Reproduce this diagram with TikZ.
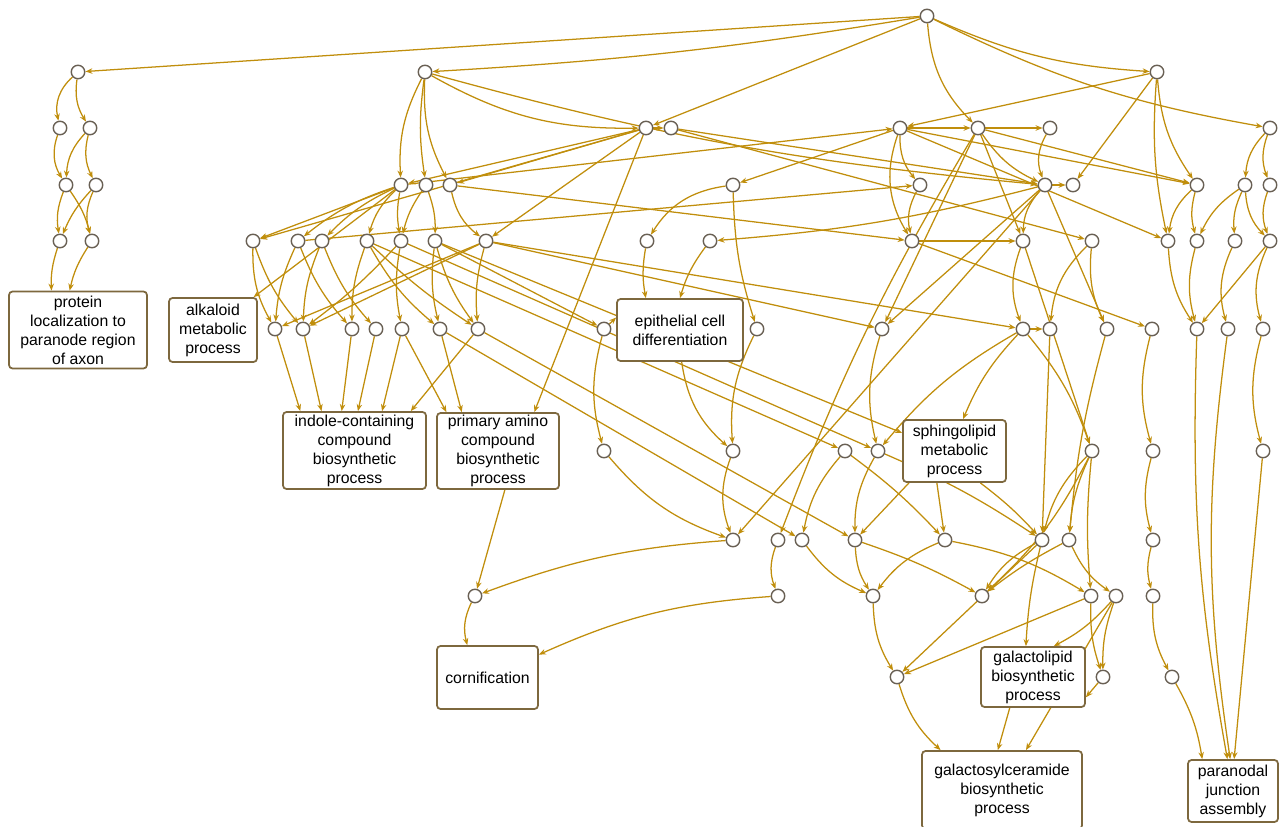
\documentclass[tikz,border=0pt]{standalone}
\usepackage{fontspec}
\setmainfont{Liberation Sans}
\usepackage{xcolor}
\usetikzlibrary{arrows.meta}
\definecolor{linkgold}{RGB}{192,142,12}
\definecolor{ringgray}{RGB}{105,96,84}
\definecolor{boxbrown}{RGB}{125,104,62}
\pgfdeclarelayer{back}
\pgfsetlayers{back,main}

\begin{document}
\begin{tikzpicture}[x=0.02cm, y=-0.02cm,
      gonode/.style={circle, draw=ringgray, fill=white, line width=0.8pt, minimum size=0.27cm, inner sep=0pt},
      term/.style={draw=boxbrown, fill=white, line width=1pt, rounded corners=2pt, align=center, inner sep=1pt, font=\fontsize{9}{10.8}\selectfont},
      link/.style={draw=linkgold, line width=0.72pt, -{Stealth[length=1.4mm, width=1.1mm]}},
    ]
      \useasboundingbox (0,0) rectangle (1280,827);

      \foreach \n/\x/\y in {r0/927/16,
          a1/78/72, b1/425/72, c1/1157/72,
          a2/60/128, b2/90/128, c2/646/128, d2/671/128, e2/900/128, f2/978/128, g2/1050/128, h2/1270/128,
          a3/66/185, b3/96/185, c3/401/185, d3/426/185, e3/450/185, f3/733/185, g3/920/185, h3/1045/185,
          i3/1073/185, j3/1197/185, k3/1245/185, l3/1270/185,
          a4/60/241, b4/92/241, c4/253/241, d4/298/241, e4/322/241, f4/367/241, g4/401/241, h4/435/241,
          i4/486/241, j4/647/241, k4/710/241, l4/912/241, m4/1023/241, n4/1092/241, o4/1168/241,
          p4/1197/241, q4/1235/241, r4/1270/241,
          a5/275/329, b5/303/329, c5/352/329, d5/376/329, e5/402/329, f5/440/329, g5/478/329, h5/604/329,
          i5/757/329, j5/882/329, k5/1023/329, l5/1050/329, m5/1107/329, n5/1152/329, o5/1197/329,
          p5/1228/329, q5/1263/329,
          a6/604/451, b6/733/451, c6/845/451, d6/878/451, e6/1092/451, f6/1153/451, g6/1263/451,
          a7/733/540, b7/778/540, c7/802/540, d7/855/540, e7/945/540, f7/1042/540, g7/1069/540, h7/1153/540,
          a8/475/596, b8/778/596, c8/873/596, d8/982/596, e8/1091/596, f8/1116/596, g8/1153/596,
          a9/897/677, b9/1103/677, c9/1172/677}
        \node[gonode] (\n) at (\x,\y) {};

      \node[term, minimum width=2.76cm, minimum height=1.54cm] (prot) at (78,330) {protein\\localization to\\paranode region\\of axon};
      \node[term, minimum width=1.76cm, minimum height=1.28cm] (alka) at (213,330) {alkaloid\\metabolic\\process};
      \node[term, minimum width=2.86cm, minimum height=1.54cm] (indo) at (354.5,450.5) {indole-containing\\compound\\biosynthetic\\process};
      \node[term, minimum width=2.44cm, minimum height=1.52cm] (prim) at (498,451) {primary amino\\compound\\biosynthetic\\process};
      \node[term, minimum width=2.52cm, minimum height=1.24cm] (epit) at (680,330) {epithelial cell\\differentiation};
      \node[term, minimum width=2.06cm, minimum height=1.24cm] (sphi) at (954.5,451) {sphingolipid\\metabolic\\process};
      \node[term, minimum width=2.02cm, minimum height=1.26cm] (corn) at (487.5,677.5) {cornification};
      \node[term, minimum width=2.08cm, minimum height=1.20cm] (glip) at (1033,677) {galactolipid\\biosynthetic\\process};
      \node[term, minimum width=3.20cm, minimum height=1.56cm] (gcer) at (1002,790) {galactosylceramide\\biosynthetic\\process};
      \node[term, minimum width=1.80cm, minimum height=1.24cm] (para) at (1233,791) {paranodal\\junction\\assembly};

      \begin{pgfonlayer}{back}
      \foreach \s/\t/\b in {r0/a1/0, a1/a2/-30, a1/b2/-20, a2/a3/-25, b2/a3/-20, b2/b3/-20,
          a3/a4/-15, a3/b4/10, b3/a4/-10, b3/b4/-20, a4/prot.124/-10, b4/prot.102/-10,
          r0/b1/3, r0/c2/0, r0/f2/-20, r0/c1/-10, r0/h2/-8,
          b1/c2/-15, b1/c3/-15, b1/d3/-8, b1/e3/-15, b1/h3/-5,
          c1/e2/0, c1/i3/0, c1/j3/-15, c1/o4/-8,
          h2/k3/-20, h2/l3/-20, j3/o4/-20, j3/p4/-15, k3/p4/-15, k3/q4/-15, k3/r4/-20, l3/r4/-20,
          c2/d2/0, c2/c3/0, c2/e3/0, c2/c4/0, c2/i4/0, c2/prim.47/0, d2/h3/0, d2/n4/0,
          c3/e2/0, d4/g3/0, e3/l4/0,
          e2/g3/-20, e2/l4/-25, e2/f2/0, e2/f3/0, e2/j3/0, e2/o4/0,
          f2/g2/0, f2/h3/-15, f2/m4/0, f2/j5/0, f2/j3/0, f2/b7/-5,
          g2/h3/-25, h3/i3/0, h3/m4/-20, h3/k4/5, h3/j5/0, h3/m5/0, h3/a7/0,
          g3/l4/-20, l4/m4/0, l4/n5/0, m4/k5/-20, m4/e6/0, n4/l5/-20, n4/m5/-15,
          k5/l5/0, k5/d6/-10, k5/sphi.75/-10, k5/e6/10, l5/f7/0, m5/g7/-5, n5/f6/-15,
          f6/h7/-15, h7/g8/-15, g8/c9/-15, c9/para.134/10, o5/para.100/-6, p5/para.95/-8,
          o4/o5/-15, p4/o5/-15, q4/p5/-20, r4/q5/-20, r4/o5/0, q5/g6/-15, g6/para.88/0,
          f3/j4/-25, f3/i5/-8, k4/epit.90/-10, j4/epit.137/-10, h5/epit.169/0, h5/a6/-15,
          a6/a7/-15, b6/a7/-20, i5/b6/-15, epit.-87/b6/-20, a7/a8/-8, prim.-80/a8/0, a8/corn.122/-20,
          b7/b8/-20, b8/corn.24/-10, c7/c8/-15, c6/c7/-15, c6/e7/5, d6/d7/-15, d6/f7/5, j5/d6/-15,
          sphi.-145/d7/0, sphi.-119/e7/0, sphi.-51/f7/5, d7/c8/-15, d7/d8/5, e7/c8/-15, e7/e8/10,
          e6/f7/-15, e6/g7/-10, e6/d8/10, e6/e8/-5, f7/d8/-15, f7/glip.103/-5, f7/a9/0, g7/d8/-5, g7/f8/-15,
          c8/a9/-15, e8/a9/0, e8/b9/-10, f8/b9/-10, f8/glip.56/10, b9/glip.-21/0,
          a9/gcer.147/-15, glip.233/gcer.96/0, f8/gcer.59/0,
          c3/c4/0, c3/d4/-10, c3/e4/-10, c3/f4/-15, c3/alka.39/0, c3/g4/-10, d3/g4/-10, d3/h4/10, e3/i4/-20,
          c4/a5/-15, c4/b5/-10, d4/a5/-10, d4/c5/-10, e4/b5/-10, e4/d5/-10, f4/c5/-10, f4/f5/-10, f4/g5/-5,
          g4/e5/-10, g4/b5/5, h4/f5/-10, h4/g5/-10, i4/b5/0, i4/a5/0, i4/g5/-10,
          a5/indo.144/0, b5/indo.130/0, c5/indo.108/0, d5/indo.85/0, e5/indo.55/0, g5/indo.35/0,
          e5/prim.143/0, f5/prim.133/0,
          f4/c6/0, g4/d6/0, h4/sphi.161/0, h4/h5/0, f5/c7/0, i4/j5/0, i4/k5/0, g5/d7/0}
        \draw[link] (\s) to[bend left=\b] (\t);
      \end{pgfonlayer}
\end{tikzpicture}
\end{document}
